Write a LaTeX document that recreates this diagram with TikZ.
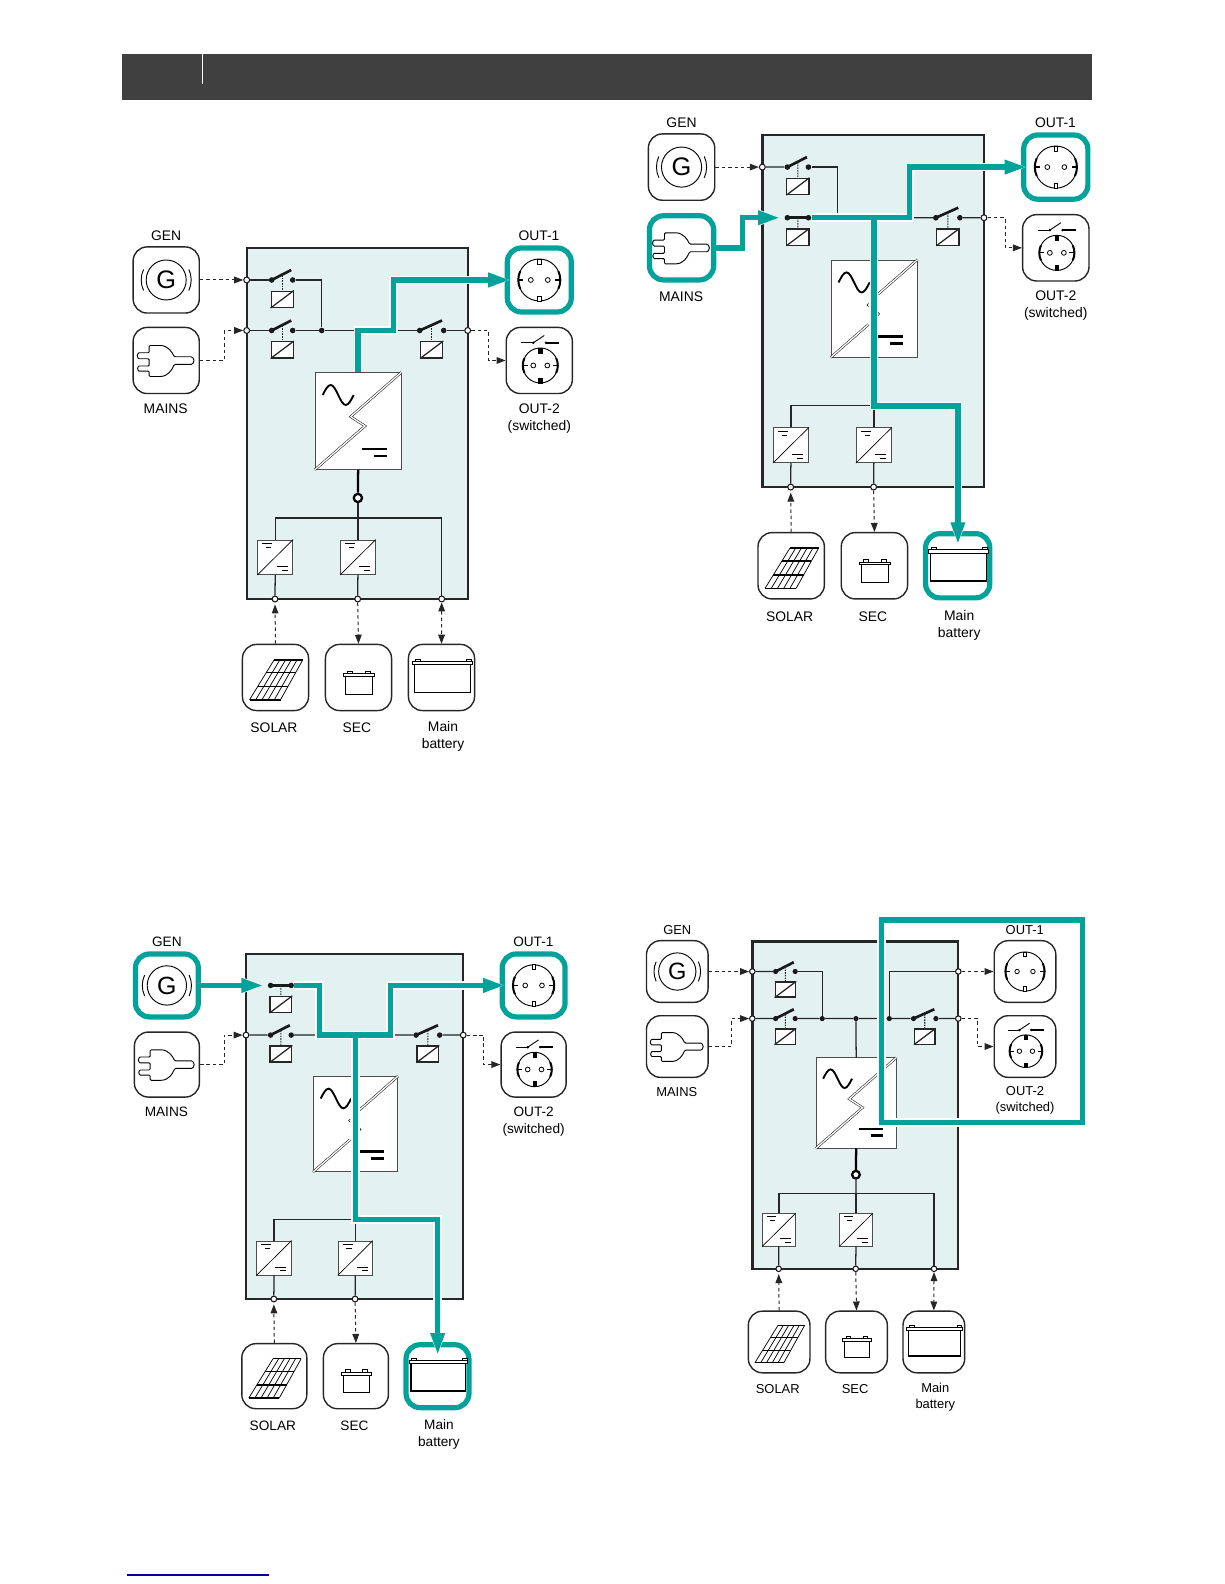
\documentclass[tikz,border=0pt]{standalone}
\usepackage{fontspec}
\setmainfont{Liberation Sans}
\usetikzlibrary{arrows.meta}
\definecolor{steal}{HTML}{00A29A}
\definecolor{spale}{HTML}{E3F2F1}
\definecolor{sbar}{HTML}{404040}
\definecolor{sblue}{HTML}{0000A0}

\tikzset{
  tile/.style={rectangle, rounded corners=10.5pt, draw=black!85, line width=1.05pt,
               fill=white, minimum size=49.6pt, inner sep=0pt},
  hottile/.style={tile, draw=steal, line width=3.9pt, minimum size=48pt},
  unitbox/.style={rectangle, draw=black!85, line width=1.8pt, fill=spale, inner sep=0pt,
                  minimum width=165.75pt, minimum height=263.25pt},
  invbox/.style={rectangle, draw=black!70, line width=.6pt, fill=white, inner sep=0pt,
                 minimum width=64.3pt, minimum height=72.5pt},
  convbox/.style={rectangle, draw=black!70, line width=.6pt, fill=white, inner sep=0pt,
                  minimum width=26.25pt, minimum height=26pt},
  relay/.style={rectangle, draw=black!85, line width=.9pt, fill=white, inner sep=0pt,
                minimum width=16.5pt, minimum height=12.2pt},
  swdot/.style={circle, fill=black!90, inner sep=0pt, minimum size=4.2pt},
  jct/.style={circle, draw=black!90, line width=.8pt, fill=white, inner sep=0pt, minimum size=4.4pt},
  ring/.style={circle, draw=black, line width=1.7pt, fill=white, inner sep=0pt, minimum size=6.2pt},
  lbl/.style={inner sep=0pt, align=center, font=\fontsize{10.4}{12.6}\selectfont},
  wire/.style={draw=black!85, line width=.95pt},
  armline/.style={draw=black!90, line width=2pt},
  dashwire/.style={draw=black!85, line width=.75pt, dash pattern=on 2.6pt off 2.2pt},
  arr/.style={-{Triangle[length=6.75pt,width=5pt]}},
  biarr/.style={{Triangle[length=6.75pt,width=5pt]}-{Triangle[length=6.75pt,width=5pt]}},
  link/.style={draw=black!85, line width=.8pt, dash pattern=on 1.2pt off .8pt},
  diagline/.style={draw=black!90, line width=.4pt, double=white, double distance=1pt},
  casing/.style={draw=white, line width=6.4pt},
  hotline/.style={draw=steal, line width=4pt},
}
\newcommand{\casetip}{-{Triangle[length=18pt,width=12.5pt]}}
\newcommand{\hottip}{-{Triangle[length=16.5pt,width=10pt]}}

% switches: name, x, y, span
\newcommand{\swopen}[4]{
  \node[swdot] (#1l) at (#2,#3) {};
  \node[swdot] (#1r) at ({#2+#4},#3) {};
  \node[relay] (#1c) at ({#2+#4/2},{#3-19.3}) {};
  \draw[wire] (#1c.south west) -- (#1c.north east);
  \coordinate (#1t) at ({#2+.93*#4},{#3+10});
  \draw[armline] (#1l.center) -- (#1t);
  \draw[link] ({#2+#4/2},{#3+5}) -- (#1c.north);
}
\newcommand{\swclosed}[4]{
  \node[swdot] (#1l) at (#2,#3) {};
  \node[swdot] (#1r) at ({#2+#4},#3) {};
  \node[relay] (#1c) at ({#2+#4/2},{#3-19.3}) {};
  \draw[wire] (#1c.south west) -- (#1c.north east);
  \draw[armline] (#1l.center) -- (#1r.center);
  \draw[link] ({#2+#4/2},#3) -- (#1c.north);
}

% icons, placed on a tile
\newcommand{\icongen}[1]{
  \begin{scope}[shift={(#1.center)}]
    \draw[line width=.7pt] (0,0) circle (20);
    \draw[line width=.7pt] (155:25) arc (155:205:25);
    \draw[line width=.7pt] (25:25) arc (25:-25:25);
    \node[inner sep=0pt, font=\fontsize{19}{19}\selectfont] (#1g) at (0,0) {G};
  \end{scope}
}
\newcommand{\iconplug}[1]{
  \begin{scope}[shift={(#1.center)}]
    \draw[line width=.7pt, rounded corners=.8pt]
      (-17,15) -- (-7,15) .. controls (2,15) and (6,8) .. (8,3.7) -- (24,3.7)
      arc (90:-90:3.8) -- (8,-3.9) .. controls (6,-9) and (2,-16) .. (-7,-16) -- (-17,-16)
      -- (-17,-10.7) -- (-26,-10.7) arc (270:90:2.6) -- (-17,-5.5) -- (-17,1.7)
      -- (-26,1.7) arc (270:90:3) -- (-17,7.7) -- cycle;
  \end{scope}
}
\newcommand{\socketbody}[5]{ % centre x, y, radius, hole offset, tab fill
  \draw[line width=.7pt] (#1,#2) circle (#3);
  \draw[line width=.6pt] ({#1-#4},#2) circle (2.4);
  \draw[line width=.6pt] ({#1+#4},#2) circle (2.4);
  \draw[line width=.5pt, fill=#5] ({#1-1.6},{#2+#3}) rectangle ({#1+1.6},{#2+#3-5});
  \draw[line width=.5pt, fill=#5] ({#1-1.6},{#2-#3}) rectangle ({#1+1.6},{#2-#3+5});
  \draw[line width=1.5pt] ([shift={(#1,#2)}]155:#3) arc (155:205:#3);
  \draw[line width=1.5pt] ([shift={(#1,#2)}]25:#3) arc (25:-25:#3);
  \draw[line width=.9pt] ({#1-#3},#2) -- ({#1-#3+5},#2);
  \draw[line width=.9pt] ({#1+#3},#2) -- ({#1+#3-5},#2);
}
\newcommand{\iconsocket}[1]{
  \begin{scope}[shift={(#1.center)}]
    \socketbody{0}{0}{21}{8.5}{white}
  \end{scope}
}
\newcommand{\iconswitched}[1]{
  \begin{scope}[shift={(#1.center)}]
    \socketbody{1}{-5}{17.5}{7}{black}
    \draw[line width=.7pt] (-18,17.7) -- (-6,17.7);
    \fill (-6,17.7) circle (1.4);
    \draw[line width=.7pt] (-6,17.7) -- (5,25);
    \fill (6.7,17.7) circle (1.4);
    \draw[line width=1.3pt] (6.7,17.7) -- (20,17.7);
  \end{scope}
}
\newcommand{\iconsolar}[1]{
  \begin{scope}[shift={(#1.center)}]
    \foreach \f in {0,.2,.4,.6,.8,1}
      \draw[line width=.55pt] ({-1.3+28.6*\f},17.7) -- ({-26+31*\f},-22.3);
    \draw[line width=1.1pt] (-1.3,17.7) -- (27.3,17.7);
    \draw[line width=1.1pt] (-9.1,5) -- (20.2,5);
    \draw[line width=1.1pt] (-17.8,-9) -- (12.4,-9);
    \draw[line width=1.1pt] (-26,-22.3) -- (5,-22.3);
  \end{scope}
}
\newcommand{\iconsec}[1]{
  \begin{scope}[shift={(#1.center)}]
    \draw[line width=.9pt] (-13,1) rectangle (13.7,-16.7);
    \draw[line width=.7pt, fill=white] (-15,1) rectangle (15.7,3.6);
    \draw[line width=.7pt, fill=white] (-11,3.6) rectangle (-6,6.4);
    \draw[line width=.7pt, fill=white] (7,3.6) rectangle (12,6.4);
  \end{scope}
}
\newcommand{\iconmain}[1]{
  \begin{scope}[shift={(#1.center)}]
    \draw[line width=.9pt] (-27,12.7) rectangle (28.7,-15);
    \draw[line width=.7pt, fill=white] (-29,12.7) rectangle (31,16);
    \draw[line width=.7pt, fill=white] (-26,16) rectangle (-21,18);
    \draw[line width=.7pt, fill=white] (25,16) rectangle (30,18);
  \end{scope}
}

% a small DC/DC converter: name, x, y
\newcommand{\conv}[3]{
  \node[convbox] (#1) at (#2,#3) {};
  \draw[line width=.5pt] (#1.south west) -- (#1.north east);
  \begin{scope}[shift={(#1.center)}]
    \draw[line width=.8pt] (-12.8,14) -- (-2.8,14) (1.5,-9.4) -- (12.5,-9.4);
    \draw[line width=.8pt] (-9.2,10) -- (-3.8,10) (6.5,-13) -- (12.5,-13);
  \end{scope}
}

% everything the four panels share: prefix, then styles for GEN, MAINS, OUT-1, Main battery
\newcommand{\panel}[5]{
  \node[unitbox] (#1box) at (110.5,-175.5) {};
  % inverter
  \node[invbox] (#1inv) at (111.45,-173) {};
  \draw[line width=1.4pt] (76,-147) sin (84,-137) cos (91.5,-147) sin (99,-157) cos (107,-147);
  \draw[line width=2pt] (115,-201) -- (140,-201);
  \draw[line width=2pt] (127,-208) -- (140,-208);
  % tiles
  \node[#2] (#1gen) at (-80.5,-32) {};
  \node[#3] (#1mains) at (-80.5,-112.5) {};
  \node[#4] (#1outa) at (292.6,-32) {};
  \node[tile] (#1outb) at (292.6,-112.5) {};
  \node[tile] (#1solar) at (28.8,-429.5) {};
  \node[tile] (#1sec) at (111.8,-429.5) {};
  \node[#5] (#1main) at (194.8,-429.5) {};
  \icongen{#1gen}
  \iconplug{#1mains}
  \iconsocket{#1outa}
  \iconswitched{#1outb}
  \iconsolar{#1solar}
  \iconsec{#1sec}
  \iconmain{#1main}
  % labels
  \node[lbl] (#1lgen) at (-80.5,12.3) {GEN};
  \node[lbl] (#1lmains) at (-81,-161) {MAINS};
  \node[lbl] (#1louta) at (292.3,12.3) {OUT-1};
  \node[lbl] (#1loutb) at (292.6,-170.3) {OUT-2\\(switched)};
  \node[lbl] (#1lsolar) at (27.3,-480) {SOLAR};
  \node[lbl] (#1lsec) at (110.3,-480) {SEC};
  \node[lbl] (#1lmain) at (196.3,-488.8) {Main\\battery};
  % junctions on the unit wall
  \node[jct] (#1jgen) at (0,-32) {};
  \node[jct] (#1jmains) at (0,-82.5) {};
  \node[jct] (#1jsw) at (221,-82.5) {};
  \node[jct] (#1jsolar) at (28.3,-351) {};
  \node[jct] (#1jsec) at (111,-351) {};
  \conv{#1conva}{28.5}{-309.3}
  \conv{#1convb}{111.2}{-309.3}
  % where the wires and the teal runs turn
  \coordinate (#1kinka) at (75,-82.5);
  \coordinate (#1kinkm) at (111.2,-82.5);
  \coordinate (#1kinkb) at (147,-82.5);
  \coordinate (#1busm) at (111.2,-270);
  \coordinate (#1inouta) at (263.5,-32);
  \coordinate (#1ingen) at (17.7,-32);
  \coordinate (#1inmains) at (17.7,-82.5);
  \coordinate (#1inmain) at (195,-408);
  % wires every panel has
  \draw[wire] (#1conva.south) -- (#1jsolar);
  \draw[wire] (#1convb.south) -- (#1jsec);
  \draw[wire] (#1conva.north) |- (#1busm);
  \draw[dashwire, arr, shorten >=1.5pt] (#1solar.north) -- (#1jsolar.south);
  \draw[dashwire, arr] (#1jsec.south) -- (#1sec.north);
  \draw[dashwire, arr] (#1jsw.east) -- ++(17.5,0) |- (#1outb.west);
}
% inverter diagonal, whole or cut by a teal run
\newcommand{\zigfull}[1]{
  \draw[diagline] (#1inv.south west) -- (118.3,-178) -- (104,-168.7) -- (#1inv.north east);
}
\newcommand{\zigcut}[1]{
  \draw[diagline] (#1inv.south west) -- (105.8,-188.9);
  \draw[diagline] (115.3,-158.8) -- (#1inv.north east);
  \draw[line width=.4pt] (106,-168) -- (104.4,-169.6) -- (106,-171);
  \draw[line width=.4pt] (115.5,-177) -- (117,-178.4) -- (115.5,-180);
}
% inverter down to the bus, and the bus on to the main battery
\newcommand{\lowbus}[1]{
  \node[ring] (#1ring) at (111.2,-250) {};
  \node[jct] (#1jmain) at (195,-351) {};
  \draw[draw=black, line width=1.7pt] (#1inv.south) -- (#1ring);
  \draw[wire] (#1ring) -- (#1busm);
  \draw[wire] (#1busm) -- (#1convb.north);
  \draw[wire] (#1busm) -| (#1jmain);
  \draw[dashwire, biarr] (#1jmain.south) -- (#1main.north);
}
\newcommand{\hotrun}[1]{
  \draw[casing, \casetip] #1;
  \draw[hotline, \hottip] #1;
}
\newcommand{\hotfork}[3]{
  \draw[casing, \casetip] #1;
  \draw[casing, \casetip] #2;
  \draw[casing, \casetip] #3;
  \draw[hotline, \hottip] #1;
  \draw[hotline, \hottip] #2;
  \draw[hotline, \hottip] #3;
}

\begin{document}
\begin{tikzpicture}[x=.75pt, y=.75pt]
  \useasboundingbox (0,0) rectangle (1224,1584);
  \node[rectangle, fill=sbar, inner sep=0pt, minimum width=727.5pt, minimum height=34.5pt] (head) at (607,1507) {};
  \draw[white, line width=1.2pt] (head.north west) ++(80.7,0) -- ++(0,-30);
  \draw[sblue, line width=1.1pt] (127.3,9) -- (269,9);

  % top left: inverter feeds OUT-1
  \begin{scope}[shift={(246.7,1336)}, transform shape]
    \panel{a}{tile}{tile}{hottile}{tile}
    \zigfull{a}
    \lowbus{a}
    \swopen{asa}{25}{-32}{21}
    \swopen{asb}{25}{-82.5}{21}
    \swopen{asc}{173}{-82.5}{24}
    \node[swdot] (adot) at (75,-82.5) {};
    \draw[dashwire, arr] (agen.east) -- (ajgen.west);
    \draw[dashwire, arr] (amains.east) -- ++(24.5,0) |- (ajmains.west);
    \draw[wire] (ajgen) -- (asal);
    \draw[wire] (ajmains) -- (asbl);
    \draw[wire] (asar) -| (adot);
    \draw[wire] (asbr) -- (adot) -- (ascl);
    \draw[wire] (ascr) -- (ajsw);
    \hotrun{(ainv.north) |- (akinkb) |- (ainouta)}
  \end{scope}

  % top right: MAINS feeds OUT-1 and the battery
  \begin{scope}[shift={(762.3,1449)}, scale=1.003, transform shape]
    \panel{b}{tile}{hottile}{hottile}{hottile}
    \zigcut{b}
    \swopen{bsa}{25}{-32}{21}
    \swclosed{bsb}{25}{-82.5}{21}
    \swopen{bsc}{173}{-82.5}{24}
    \draw[dashwire, arr] (bgen.east) -- (bjgen.west);
    \draw[wire] (bjgen) -- (bsal);
    \draw[wire] (bsar) -| (bkinka);
    \draw[wire] (bkinkb) -- (bscl);
    \draw[wire] (bscr) -- (bjsw);
    \draw[wire] (bbusm) -- (bconvb.north);
    \hotfork{(bmains.east) -- ++(26,0) |- (binmains)}
            {(bsbr.east) -- (bkinkb) |- (binouta)}
            {(bkinkm) -- (bbusm) -| (binmain)}
  \end{scope}

  % bottom left: GEN feeds OUT-1 and the battery
  \begin{scope}[shift={(246,630)}, scale=.983, transform shape]
    \panel{c}{hottile}{tile}{hottile}{hottile}
    \zigcut{c}
    \swclosed{csa}{25}{-32}{21}
    \swopen{csb}{25}{-82.5}{21}
    \swopen{csc}{173}{-82.5}{24}
    \draw[dashwire, arr] (cmains.east) -- ++(24.5,0) |- (cjmains.west);
    \draw[wire] (cjmains) -- (csbl);
    \draw[wire] (csbr) -- (ckinka);
    \draw[wire] (ckinkb) -- (cscl);
    \draw[wire] (cscr) -- (cjsw);
    \draw[wire] (cbusm) -- (cconvb.north);
    \hotfork{(cgen.east) -- (cingen)}
            {(csar.east) -| (ckinka) -- (ckinkb) |- (cinouta)}
            {(ckinkm) -- (cbusm) -| (cinmain)}
  \end{scope}

  % bottom right: both outlets framed
  \begin{scope}[shift={(752.3,642.3)}, scale=.932, transform shape]
    \panel{d}{tile}{tile}{tile}{tile}
    \zigfull{d}
    \lowbus{d}
    \swopen{dsa}{25}{-32}{21}
    \swopen{dsb}{25}{-82.5}{21}
    \swopen{dsc}{173}{-82.5}{24}
    \node[swdot] (ddota) at (75,-82.5) {};
    \node[swdot] (ddotb) at (111.2,-82.5) {};
    \node[swdot] (ddotc) at (147,-82.5) {};
    \node[jct] (djouta) at (221,-32) {};
    \draw[dashwire, arr] (dgen.east) -- (djgen.west);
    \draw[dashwire, arr] (dmains.east) -- ++(24.5,0) |- (djmains.west);
    \draw[dashwire, arr] (djouta.east) -- (douta.west);
    \draw[wire] (djgen) -- (dsal);
    \draw[wire] (djmains) -- (dsbl);
    \draw[wire] (dsar) -| (ddota);
    \draw[wire] (dsbr) -- (ddota) -- (ddotb) -- (ddotc) -- (dscl);
    \draw[wire] (dscr) -- (djsw);
    \draw[wire] (ddotb) -- (dinv.north);
    \draw[wire] (ddotc) |- (djouta);
    \draw[casing] (138.8,23.3) rectangle (354,-194.2);
    \draw[hotline] (138.8,23.3) rectangle (354,-194.2);
  \end{scope}
\end{tikzpicture}
\end{document}
